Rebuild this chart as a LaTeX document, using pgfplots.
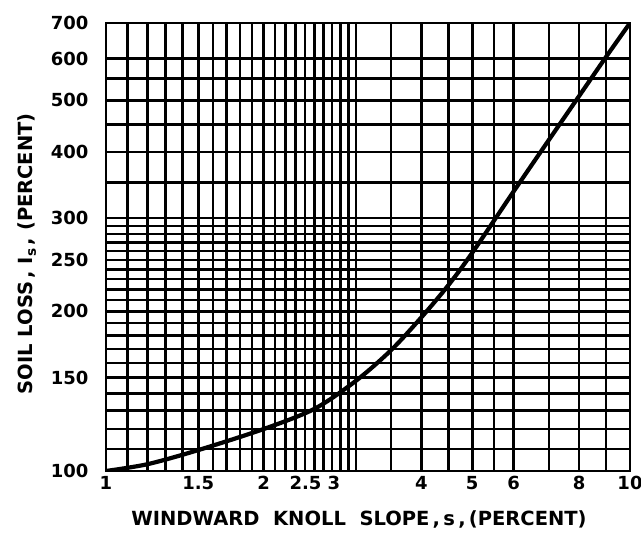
\documentclass[border=0pt]{standalone}
\usepackage{fontspec}
\setmainfont{DejaVu Sans}
\usepackage{pgfplots}
\pgfplotsset{compat=1.18}
% move a tick label sideways by half of #1
\newcommand\shiftlab[2]{\makebox[0pt]{\hspace*{#1}#2}}

\begin{document}
\begin{tikzpicture}
\begin{axis}[
  scale only axis, width=524pt, height=448pt,
  xmode=log, ymode=log,
  xmin=1, xmax=10, ymin=100, ymax=700,
  % every grid line is a major tick, only some of them get a label
  xtick={1,1.1,1.2,1.3,1.4,1.5,1.6,1.7,1.8,1.9,2,2.1,2.2,2.3,2.4,2.5,2.6,2.7,2.8,2.9,3,3.5,4,4.5,5,5.5,6,7,8,9,10},
  xticklabels={1,,,,,1.5,,,,,2,,,,,\shiftlab{-18pt}{2.5},,,,,\shiftlab{-44pt}{3},,4,,5,,6,,8,,10},
  ytick={100,110,120,130,140,150,160,170,180,190,200,210,220,230,240,250,260,270,280,290,300,350,400,450,500,550,600,700},
  yticklabels={100,,,,,150,,,,,200,,,,,250,,,,,300,,400,,500,,600,700},
  grid=major,
  major grid style={black, line width=2.5pt},
  axis line style={black, line width=2.6pt},
  major tick length=0pt,
  tick label style={font=\fontsize{18}{18}\selectfont\bfseries},
  yticklabel style={xshift=-14pt},
  xticklabel style={yshift=-2pt},
  xlabel={WINDWARD\ \ KNOLL\ \ SLOPE\,,\,s\,,\,(PERCENT)},
  ylabel={SOIL\ LOSS\,,\ I\textsubscript{s}\,,\ (PERCENT)},
  label style={font=\fontsize{19.5}{19.5}\selectfont\bfseries},
  xlabel style={yshift=-14pt, xshift=-9pt},
  ylabel style={at={(ticklabel cs:0.485)}, yshift=8pt},
]
\addplot[smooth, black, line width=4.2pt] coordinates {
  (1,100) (1.2,103) (1.5,109.5) (2,120) (2.5,131) (3,148) (3.5,169)
  (4,195) (4.5,224) (5,258) (6,337) (7,421) (8,510) (9,604) (10,700)
};
\end{axis}
\pgfresetboundingbox
\path[use as bounding box] (current axis.south west) ++(-106pt,-70pt) rectangle ([shift={(11pt,23pt)}]current axis.north east);
\end{tikzpicture}
\end{document}
